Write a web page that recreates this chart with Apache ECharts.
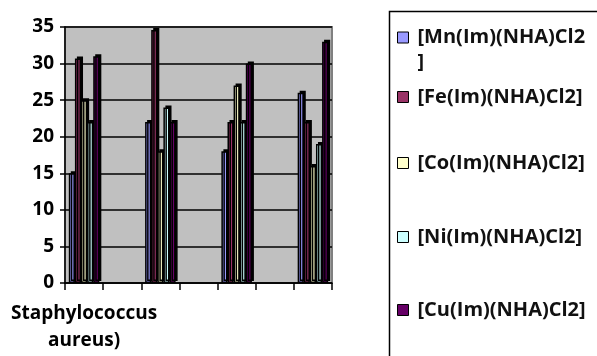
<!DOCTYPE html>
<html>
<head>
<meta charset="utf-8">
<script src="https://cdn.jsdelivr.net/npm/echarts@6/dist/echarts.min.js"></script>
<style>
  html, body { margin: 0; padding: 0; background: #fff; }
  #chart { width: 597px; height: 356px; }
</style>
</head>
<body>
<div id="chart"></div>
<script>
// 7 category slots on the axis, bars only sit in every other one
var categories = ['Staphylococcus\naureus)', '', '', '', '', '', ''];
var groupSlots = [0, 2, 4, 6];

var seriesNames = ['[Mn(Im)(NHA)Cl2]', '[Fe(Im)(NHA)Cl2]', '[Co(Im)(NHA)Cl2]', '[Ni(Im)(NHA)Cl2]', '[Cu(Im)(NHA)Cl2]'];
var mnValues = [15, 22, 18, 26];
var feValues = [30.7, 34.6, 22, 22];
var coValues = [25, 18, 27, 16];
var niValues = [22, 24, 22, 19];
var cuValues = [31, 22, 30, 33];
var colors = ['#9999FF', '#993366', '#FFFFCC', '#CCFFFF', '#660066'];
var yTicks = [0, 5, 10, 15, 20, 25, 30, 35];

var fontFamily = '"Open Sans", sans-serif';

function spread (vals) {
  var out = categories.map(function () { return '-'; });
  groupSlots.forEach(function (slot, i) { out[slot] = vals[i]; });
  return out;
}

var allValues = [mnValues, feValues, coValues, niValues, cuValues];
var legendTops = [0, 84.5, 150.5, 224.5, 297.5];

var chart = echarts.init(document.getElementById('chart'));
var option = {
  animation: false,
  backgroundColor: '#ffffff',
  color: colors,
  grid: {
    left: 65,
    right: 265,
    top: 27,
    bottom: 73,
    show: true,
    backgroundColor: '#C0C0C0',
    borderColor: '#808080',
    borderWidth: 2
  },
  xAxis: {
    type: 'category',
    data: categories,
    boundaryGap: true,
    axisLine: { lineStyle: { color: '#000', width: 1.5 } },
    axisTick: { show: true, length: 7, interval: 0, lineStyle: { color: '#000', width: 1.5 } },
    axisLabel: {
      interval: 0,
      margin: 17,
      color: '#000',
      fontFamily: fontFamily,
      fontWeight: 700,
      fontSize: 19,
      lineHeight: 27
    },
    splitLine: { show: false }
  },
  yAxis: {
    type: 'value',
    min: yTicks[0],
    max: yTicks[yTicks.length - 1],
    interval: 5,
    axisLine: { show: true, lineStyle: { color: '#000', width: 1.5 } },
    axisTick: { show: true, length: 5, lineStyle: { color: '#000', width: 1.5 } },
    axisLabel: {
      margin: 11,
      color: '#000',
      fontFamily: fontFamily,
      fontWeight: 700,
      fontSize: 19
    },
    splitLine: { show: true, lineStyle: { color: '#000', width: 1.5 } }
  },
  legend: seriesNames.map(function (name, i) {
    return {
      data: [name],
      orient: 'vertical',
      left: 397,
      top: legendTops[i],
      padding: 0,
      icon: 'rect',
      itemWidth: 11,
      itemHeight: 11,
      itemGap: 0,
      itemStyle: { borderColor: '#000', borderWidth: 1, shadowColor: 'transparent', shadowBlur: 0, shadowOffsetX: 0, shadowOffsetY: 0 },
      // first entry wraps its closing bracket; a blank first line keeps the marker on the text line
      formatter: function (n) { return i === 0 ? ' \n' + n.slice(0, -1) + '\n]' : n; },
      textStyle: {
        color: '#111',
        fontFamily: fontFamily,
        fontWeight: 700,
        fontSize: 20,
        lineHeight: 25,
        padding: [0, 0, 0, 4]
      }
    };
  }),
  graphic: [{
    type: 'rect',
    left: 387,
    top: 9,
    shape: { width: 260, height: 400 },
    style: { fill: 'none', stroke: '#000', lineWidth: 1.5 }
  }],
  series: seriesNames.map(function (name, i) {
    return {
      name: name,
      type: 'bar',
      data: spread(allValues[i]),
      barGap: 0,
      barCategoryGap: '20%',
      itemStyle: {
        color: colors[i],
        borderColor: '#000',
        borderWidth: 1.5,
        shadowColor: '#000',
        shadowBlur: 0,
        shadowOffsetX: 2,
        shadowOffsetY: -2
      }
    };
  })
};
chart.setOption(option);
</script>
</body>
</html>
